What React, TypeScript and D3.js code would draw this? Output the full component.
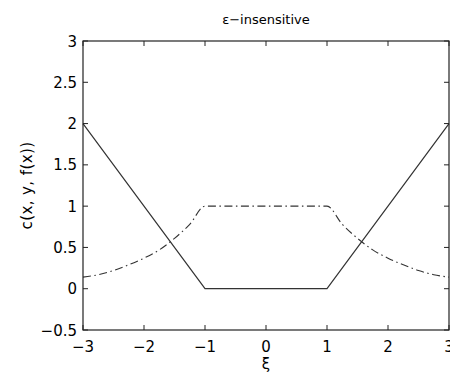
import * as React from 'react'
import * as d3 from 'd3'

// epsilon-insensitive loss (solid) and the matching density shape (dash-dot)
const lossX = [-3, -1, 1, 3]
const lossY = [2, 0, 0, 2]

const densX = [-3, -2.75, -2.5, -2.25, -2, -1.75, -1.5, -1.25, -1, 1, 1.25, 1.5, 1.75, 2, 2.25, 2.5, 2.75, 3]
const densY = [0.14, 0.17, 0.22, 0.29, 0.37, 0.47, 0.61, 0.78, 1, 1, 0.78, 0.61, 0.47, 0.37, 0.29, 0.22, 0.17, 0.14]

const xTicks = [-3, -2, -1, 0, 1, 2, 3]
const yTicks = [-0.5, 0, 0.5, 1, 1.5, 2, 2.5, 3]

const W = 450
const H = 380
const m = { left: 83, right: 1, top: 41, bottom: 50 }

const fmt = (v: number) => String(v).replace('-', '\u2212')

export default function App() {
  const x = d3.scaleLinear().domain([-3, 3]).range([m.left, W - m.right])
  const y = d3.scaleLinear().domain([-0.5, 3]).range([H - m.bottom, m.top])

  const lossPath = d3.line<[number, number]>()
    .x(d => x(d[0]))
    .y(d => y(d[1]))(lossX.map((v, i) => [v, lossY[i]]))
  const densPath = d3.line<[number, number]>()
    .x(d => x(d[0]))
    .y(d => y(d[1]))
    .curve(d3.curveMonotoneX)(densX.map((v, i) => [v, densY[i]]))

  const [x0, x1] = x.range()
  const [y0, y1] = y.range()
  const font = 'DejaVu Sans, Liberation Sans, Arial, sans-serif'
  const tick = 5

  return (
    <svg width={W} height={H} style={{ position: 'absolute', left: 0, top: 0, background: '#fff' }}
      fontFamily={font}>
      <rect x={0} y={0} width={W} height={H} fill="#fff" />
      <path d={lossPath || ''} fill="none" stroke="#333" strokeWidth={1.2} />
      <path d={densPath || ''} fill="none" stroke="#333" strokeWidth={1.1} strokeDasharray="8,3.5,1.5,3.5" />

      {/* box */}
      <rect x={x0} y={y1} width={x1 - x0} height={y0 - y1} fill="none" stroke="#222" strokeWidth={1.2} />

      {xTicks.map(t => (
        <g key={'x' + t}>
          <line x1={x(t)} x2={x(t)} y1={y0} y2={y0 - tick} stroke="#222" />
          <line x1={x(t)} x2={x(t)} y1={y1} y2={y1 + tick} stroke="#222" />
          <text x={x(t)} y={y0 + 22} textAnchor="middle" fontSize={15} fill="#000">{fmt(t)}</text>
        </g>
      ))}
      {yTicks.map(t => (
        <g key={'y' + t}>
          <line x1={x0} x2={x0 + tick} y1={y(t)} y2={y(t)} stroke="#222" />
          <line x1={x1} x2={x1 - tick} y1={y(t)} y2={y(t)} stroke="#222" />
          <text x={x0 - 6} y={y(t) + 5.5} textAnchor="end" fontSize={15} fill="#000">{fmt(t)}</text>
        </g>
      ))}

      <text x={(x0 + x1) / 2} y={24} textAnchor="middle" fontSize={13} fill="#000">ε−insensitive</text>
      <text x={(x0 + x1) / 2} y={y0 + 39} textAnchor="middle" fontSize={15} fill="#000">ξ</text>
      <text transform={`translate(32, ${(y0 + y1) / 2}) rotate(-90)`} textAnchor="middle" fontSize={15}
        letterSpacing={0.4} fill="#000">
        c(x, y, f(x))
      </text>
    </svg>
  )
}
